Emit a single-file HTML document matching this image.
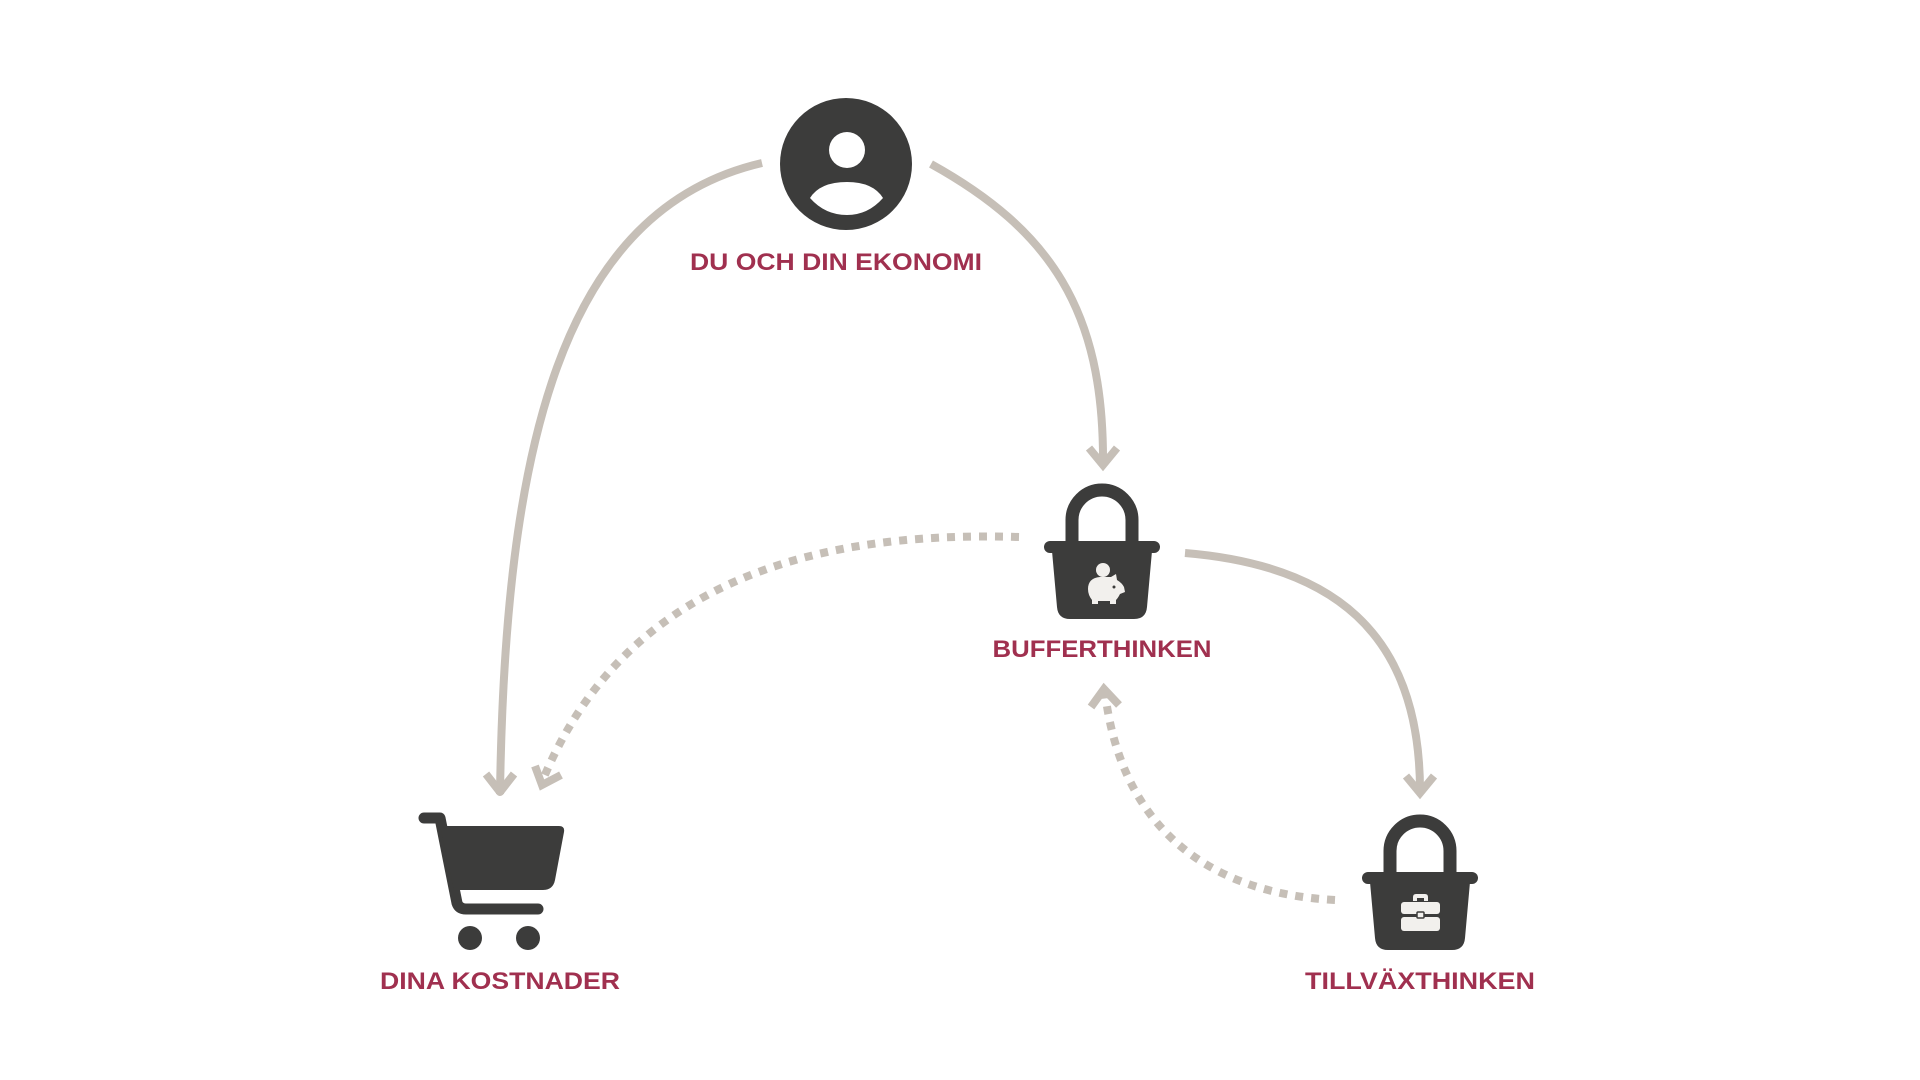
<!DOCTYPE html>
<html><head><meta charset="utf-8"><style>html,body{margin:0;padding:0;background:#fff}svg{display:block}</style></head>
<body>
<svg width="1920" height="1080" viewBox="0 0 1920 1080" xmlns="http://www.w3.org/2000/svg">
<defs>
<g id="bucket">
<path d="M -30 0 V -21 A 30 30 0 0 1 30 -21 V 0" fill="none" stroke="#3c3c3b" stroke-width="13"/>
<rect x="-58" y="0" width="116" height="12" rx="6" fill="#3c3c3b"/>
<path d="M -50 10 L 50 10 L 45 66 Q 44 78 32 78 L -32 78 Q -44 78 -45 66 Z" fill="#3c3c3b"/>
</g>
</defs>
<g fill="none" stroke="#c6bfb7" stroke-width="8" stroke-linecap="butt">
<path d="M 762 163 C 560 210 505 450 500 794"/>
<path d="M 486 774 L 500 792 L 514 774" stroke-linejoin="round"/>
<path d="M 931 164 C 1050 230 1104 310 1103 463"/>
<path d="M 1089 448 L 1103 465 L 1117 448"/>
<path d="M 1185 553 C 1330 565 1420 630 1420 791"/>
<path d="M 1406 776 L 1420 793 L 1434 776"/>
<path d="M 1019 537 C 800 530 620 590 542 782" stroke-dasharray="8 8"/>
<path d="M 535 766 L 542 785 L 561 775"/>
<path d="M 1335 900 C 1200 893 1120 820 1105 692" stroke-dasharray="8 8"/>
<path d="M 1091 707 L 1104 689 L 1119 705"/>
</g>
<!-- person -->
<circle cx="846" cy="164" r="66" fill="#3c3c3b"/>
<circle cx="847" cy="150" r="18" fill="#fff"/>
<path d="M 810 198 Q 820 182 847 182 Q 873 182 883 198 Q 868 215 847 215 Q 825 215 810 198 Z" fill="#fff"/>
<!-- buckets -->
<use href="#bucket" transform="translate(1102,541)"/>
<use href="#bucket" transform="translate(1420,872)"/>
<!-- piggy -->
<g fill="#f2f0ed">
<circle cx="1103" cy="570" r="7"/>
<path d="M 1088 589 Q 1088 578 1100 577 L 1111 577 L 1116 574 L 1117 580 Q 1122 583 1124 587 L 1125 592 L 1120 594 Q 1118 598 1116 600 L 1116 604 L 1110 604 L 1110 601 L 1098 601 L 1098 604 L 1092 604 L 1092 600 Q 1088 595 1088 589 Z"/>
</g>
<circle cx="1114" cy="587" r="1.5" fill="#3c3c3b"/>
<!-- briefcase -->
<g fill="#f2f0ed">
<path d="M 1413 901 V 897 Q 1413 894 1416 894 H 1425 Q 1428 894 1428 897 V 901 H 1424 V 898 H 1417 V 901 Z"/>
<rect x="1401" y="902" width="39" height="12" rx="3"/>
<rect x="1401" y="917" width="39" height="14" rx="3"/>
</g>
<rect x="1417" y="912" width="7" height="6" rx="1" fill="#f2f0ed" stroke="#3c3c3b" stroke-width="1.5"/>
<!-- cart -->
<path d="M 424 818 H 440 L 457 903 Q 459 909 466 909 H 538" fill="none" stroke="#3c3c3b" stroke-width="11" stroke-linecap="round" stroke-linejoin="round"/>
<path d="M 440 826 H 559 Q 565 826 564 832 L 555 880 Q 553 890 543 890 H 454 Z" fill="#3c3c3b"/>
<circle cx="470" cy="938" r="12" fill="#3c3c3b"/>
<circle cx="528" cy="938" r="12" fill="#3c3c3b"/>
<!-- labels -->
<g font-family="'Liberation Sans', 'DejaVu Sans', sans-serif" font-weight="bold" font-size="24" fill="#a0304f" text-anchor="middle">
<text x="836" y="270" textLength="292" lengthAdjust="spacingAndGlyphs">DU OCH DIN EKONOMI</text>
<text x="1102" y="657" textLength="219" lengthAdjust="spacingAndGlyphs">BUFFERTHINKEN</text>
<text x="500" y="989" textLength="240" lengthAdjust="spacingAndGlyphs">DINA KOSTNADER</text>
<text x="1420" y="989" textLength="230" lengthAdjust="spacingAndGlyphs">TILLVÄXTHINKEN</text>
</g>
</svg>
</body></html>
